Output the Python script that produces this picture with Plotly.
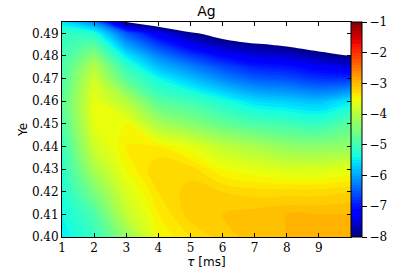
import plotly.graph_objects as go

# ---- data ----
tau_ms = [1, 2, 3, 4, 5, 6, 7, 8, 9, 10]
ye = [0.400, 0.410, 0.420, 0.430, 0.440, 0.450, 0.460, 0.470, 0.475, 0.480, 0.485, 0.490, 0.495]

# log abundance of Ag; rows follow ye, columns follow tau_ms
ag_400 = [-5.5, -5.1, -4.3, -3.5, -3.3, -3.15, -3.05, -3.0, -3.0, -3.0]
ag_410 = [-5.4, -4.9, -3.9, -3.4, -3.15, -3.1, -3.05, -3.0, -3.0, -3.0]
ag_420 = [-5.3, -4.5, -3.7, -3.3, -3.15, -3.2, -3.25, -3.25, -3.25, -3.2]
ag_430 = [-5.2, -4.1, -3.5, -3.2, -3.25, -3.5, -3.6, -3.7, -3.7, -3.6]
ag_440 = [-5.1, -3.8, -3.4, -3.4, -3.6, -3.9, -4.1, -4.3, -4.35, -4.3]
ag_450 = [-4.9, -3.6, -3.5, -4.1, -4.4, -4.7, -4.9, -5.0, -5.1, -4.8]
ag_460 = [-4.8, -3.6, -4.0, -4.8, -5.0, -5.3, -5.6, -5.7, -5.8, -5.5]
ag_470 = [-4.9, -3.8, -4.8, -5.4, -5.8, -6.2, -6.5, -6.6, -6.8, -6.8]
ag_475 = [-4.95, -4.0, -5.1, -5.8, -6.2, -6.6, -6.9, -7.0, -7.2, -7.4]
ag_480 = [-5.0, -4.4, -5.5, -6.2, -6.7, -7.1, -7.4, -7.5, -7.8, -8.0]
ag_485 = [-5.05, -4.8, -6.0, -6.7, -7.3, -7.7, -7.9, -8.1, -8.3, -8.6]
ag_490 = [-5.1, -5.3, -6.5, -7.3, -7.9, -8.3, -9.0, -9.5, -9.5, -9.5]
ag_495 = [-5.6, -6.2, -8.0, -8.5, -9.0, -9.5, -10.0, -10.0, -10.0, -10.0]

z = [ag_400, ag_410, ag_420, ag_430, ag_440, ag_450, ag_460,
     ag_470, ag_475, ag_480, ag_485, ag_490, ag_495]

x_ticks = [1, 2, 3, 4, 5, 6, 7, 8, 9]
y_ticks = [0.40, 0.41, 0.42, 0.43, 0.44, 0.45, 0.46, 0.47, 0.48, 0.49]
cb_ticks = [-8, -7, -6, -5, -4, -3, -2, -1]
z_floor = -8
z_ceil = -1

# matplotlib "jet"
jet = [
    [0.0, "rgb(0,0,128)"], [0.11, "rgb(0,0,255)"], [0.125, "rgb(0,0,255)"],
    [0.34, "rgb(0,219,255)"], [0.35, "rgb(0,229,255)"], [0.375, "rgb(20,255,226)"],
    [0.64, "rgb(238,255,8)"], [0.65, "rgb(247,245,0)"], [0.66, "rgb(255,236,0)"],
    [0.89, "rgb(255,19,0)"], [0.91, "rgb(232,0,0)"], [1.0, "rgb(128,0,0)"],
]

serif = "DejaVu Serif, Liberation Serif, serif"
sans = "DejaVu Sans, sans-serif"

fig = go.Figure()
fig.add_trace(go.Contour(
    x=tau_ms, y=ye, z=z,
    colorscale=jet, zmin=z_floor, zmax=z_ceil,
    contours=dict(start=z_floor, end=z_ceil, size=0.1, coloring="fill", showlines=False),
    line=dict(width=0),
    colorbar=dict(
        thickness=11, len=1, lenmode="fraction", y=0.5, yanchor="middle", ypad=0,
        x=1.0, xanchor="left", xpad=0,
        outlinewidth=1, outlinecolor="black",
        tickvals=cb_ticks, ticks="outside", ticklen=5, tickcolor="black",
        tickfont=dict(family=serif, size=12, color="black"),
    ),
))
# region below the lowest level left blank (white)
fig.add_trace(go.Contour(
    x=tau_ms, y=ye, z=z,
    contours=dict(type="constraint", operation=">", value=z_floor),
    fillcolor="white", line=dict(width=0), showscale=False, hoverinfo="skip",
))

fig.update_layout(
    width=415, height=280,
    margin=dict(l=62, r=64, t=22, b=43, autoexpand=False),
    paper_bgcolor="white", plot_bgcolor="white",
    showlegend=False,
    title=dict(text="Ag", x=0.5, xref="paper", xanchor="center", y=0.96, yanchor="middle",
               font=dict(family=sans, size=14, color="black")),
)
fig.update_xaxes(
    range=[1, 10], tickvals=x_ticks, ticks="inside", ticklen=4, tickcolor="black",
    showline=True, linecolor="black", linewidth=1, mirror="ticks", showgrid=False, zeroline=False,
    tickfont=dict(family=serif, size=12, color="black"),
    title=dict(text="<i>τ</i> [ms]", font=dict(family=sans, size=12, color="black"), standoff=2),
)
fig.update_yaxes(
    range=[0.40, 0.495], tickvals=y_ticks, tickformat=".2f", ticks="inside", ticklen=4, tickcolor="black",
    showline=True, linecolor="black", linewidth=1, mirror="ticks", showgrid=False, zeroline=False,
    tickfont=dict(family=serif, size=12, color="black"),
    title=dict(text="Ye", font=dict(family=sans, size=12, color="black"), standoff=1),
)

fig.write_html("out.html", config={"displayModeBar": False},
               post_script="document.body.style.margin='0';")
